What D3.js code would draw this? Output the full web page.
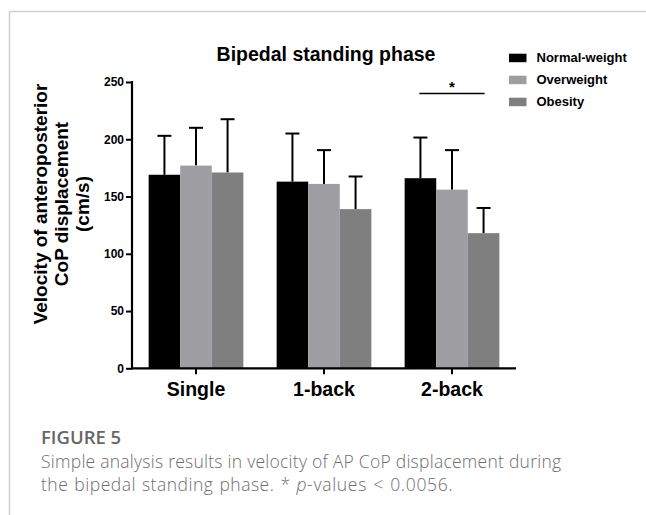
<!DOCTYPE html>
<html>
<head>
<meta charset="utf-8">
<script src="https://cdn.jsdelivr.net/npm/d3@7/dist/d3.min.js"></script>
<style>
  html, body { margin: 0; padding: 0; background: #fff; }
  svg { display: block; }
  .ax text { font-family: "Liberation Sans", Arial, sans-serif; font-weight: bold; fill: #000; }
</style>
</head>
<body>
<svg id="chart" width="646" height="515"></svg>
<script>
const categories = ["Single", "1-back", "2-back"];
const series = ["Normal-weight", "Overweight", "Obesity"];
const means = {
  "Normal-weight": [169, 163, 166],
  "Overweight":    [177, 161, 156],
  "Obesity":       [171, 139, 118]
};
const errTops = {
  "Normal-weight": [203, 205, 201.5],
  "Overweight":    [210, 190.5, 190.5],
  "Obesity":       [217.5, 167.5, 140]
};
const yTicks = [0, 50, 100, 150, 200, 250];
const sigBar = { category: "2-back", from: "Normal-weight", to: "Obesity", y: 240, label: "*" };
const colors = { "Normal-weight": "#000000", "Overweight": "#9e9ea2", "Obesity": "#7f7f7f" };

const svg = d3.select("#chart");
const font = '"Liberation Sans", Arial, sans-serif';

// frame lines
svg.append("line").attr("x1", 9.5).attr("x2", 646).attr("y1", 11.5).attr("y2", 11.5)
  .attr("stroke", "#cfcfcf").attr("stroke-width", 1.5);
svg.append("line").attr("x1", 9.5).attr("x2", 9.5).attr("y1", 11).attr("y2", 515)
  .attr("stroke", "#cfcfcf").attr("stroke-width", 1.5);

const x0 = d3.scaleBand().domain(categories).range([132, 516]).paddingInner(0.26).paddingOuter(0.13);
const x1 = d3.scaleBand().domain(series).range([0, x0.bandwidth()]);
const y = d3.scaleLinear().domain([0, 250]).range([368.3, 82]);

// bars
const g = svg.append("g");
series.forEach(s => {
  categories.forEach((c, i) => {
    const bx = x0(c) + x1(s);
    const cx = bx + x1.bandwidth() / 2;
    g.append("line").attr("x1", cx).attr("x2", cx).attr("y1", y(means[s][i])).attr("y2", y(errTops[s][i]))
      .attr("stroke", "#000").attr("stroke-width", 2);
    g.append("line").attr("x1", cx - 7).attr("x2", cx + 7).attr("y1", y(errTops[s][i])).attr("y2", y(errTops[s][i]))
      .attr("stroke", "#000").attr("stroke-width", 2);
    g.append("rect").attr("x", bx).attr("y", y(means[s][i]))
      .attr("width", x1.bandwidth()).attr("height", y(0) - y(means[s][i]))
      .attr("fill", colors[s]);
  });
});

// axes
const yAxis = svg.append("g").attr("class", "ax").attr("transform", "translate(132,0)")
  .call(d3.axisLeft(y).tickValues(yTicks).tickSize(6).tickSizeOuter(0).tickPadding(2));
yAxis.select(".domain").attr("stroke-width", 2.2).attr("d", `M0,${y(0)+1}V${y(250)-1}`);
yAxis.selectAll(".tick line").attr("stroke-width", 2);
yAxis.selectAll(".tick text").style("font-size", "12px");

const xAxis = svg.append("g").attr("class", "ax").attr("transform", `translate(0,${y(0)})`)
  .call(d3.axisBottom(x0).tickSize(6).tickSizeOuter(0).tickPadding(8));
xAxis.select(".domain").attr("stroke-width", 2.2).attr("d", "M131,0H516");
xAxis.selectAll(".tick line").attr("stroke-width", 2);
xAxis.selectAll(".tick text").style("font-size", "19.5px");

// significance
const sx1 = x0(sigBar.category) + x1(sigBar.from) + x1.bandwidth() / 2;
const sx2 = x0(sigBar.category) + x1(sigBar.to) + x1.bandwidth() / 2;
svg.append("line").attr("x1", sx1 - 1).attr("x2", sx2 + 1).attr("y1", y(sigBar.y)).attr("y2", y(sigBar.y))
  .attr("stroke", "#000").attr("stroke-width", 1.6);
svg.append("text").attr("x", (sx1 + sx2) / 2).attr("y", y(sigBar.y) - 1)
  .attr("text-anchor", "middle").attr("font-family", font).attr("font-weight", "bold")
  .attr("font-size", "15px").text(sigBar.label);

// title
svg.append("text").attr("x", 326).attr("y", 61).attr("text-anchor", "middle")
  .attr("font-family", font).attr("font-weight", "bold").attr("font-size", "19.5px")
  .text("Bipedal standing phase");

// y label
const yl = svg.append("text").attr("transform", "translate(0,204) rotate(-90)")
  .attr("text-anchor", "middle").attr("font-family", font).attr("font-weight", "bold")
  .attr("font-size", "19px");
["Velocity of anteroposterior", "CoP displacement", "(cm/s)"].forEach((t, i) => {
  yl.append("tspan").attr("x", 0).attr("y", 47 + i * 21).text(t);
});

// legend
const lg = svg.append("g");
series.forEach((s, i) => {
  const cy = 57.7 + i * 22;
  lg.append("rect").attr("x", 509).attr("y", cy - 4).attr("width", 17.5).attr("height", 8.5).attr("fill", colors[s]);
  lg.append("text").attr("x", 536.5).attr("y", cy + 4.5).attr("font-family", font).attr("font-weight", "bold")
    .attr("font-size", "13px").text(s);
});

// caption
const cap = '"Open Sans", "Noto Sans", sans-serif';
svg.append("text").attr("x", 41).attr("y", 444).attr("font-family", cap).attr("font-weight", 600)
  .attr("font-size", "18.5px").attr("fill", "#666666").text("FIGURE 5");
svg.append("text").attr("x", 41).attr("y", 468).attr("font-family", cap).attr("font-weight", 300)
  .attr("font-size", "17.5px").attr("letter-spacing", "0.25px").attr("fill", "#6e6e6e")
  .text("Simple analysis results in velocity of AP CoP displacement during");
const l2 = svg.append("text").attr("x", 41).attr("y", 491).attr("font-family", cap).attr("font-weight", 300)
  .attr("font-size", "17.5px").attr("letter-spacing", "0.5px").attr("word-spacing", "1px").attr("fill", "#6e6e6e");
l2.append("tspan").text("the bipedal standing phase. * ");
l2.append("tspan").attr("font-style", "italic").text("p");
l2.append("tspan").attr("letter-spacing", "0.7px").text("-values < 0.0056.");
</script>
</body>
</html>
